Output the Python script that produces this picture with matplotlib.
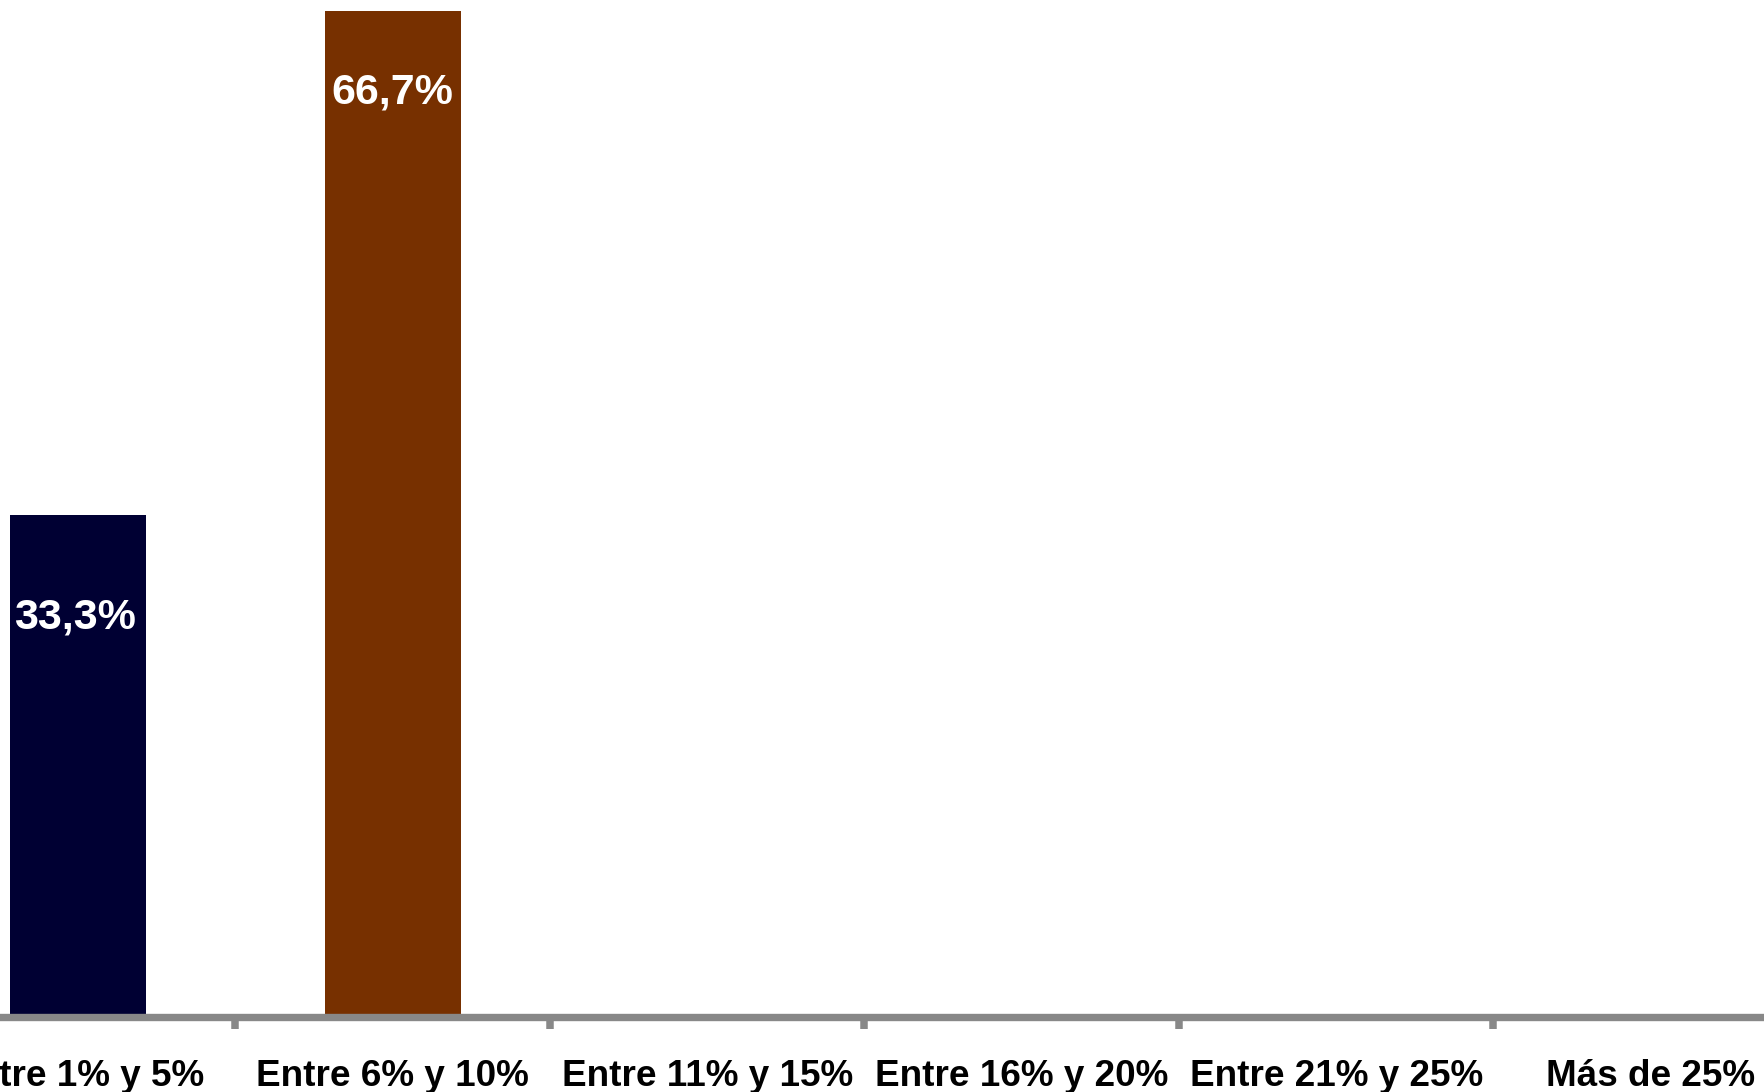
import matplotlib
matplotlib.use("Agg")
import matplotlib.pyplot as plt
import numpy as np

plt.rcParams['font.family'] = ['Liberation Sans', 'DejaVu Sans']

categories = ["Entre 1% y 5%", "Entre 6% y 10%", "Entre 11% y 15%",
              "Entre 16% y 20%", "Entre 21% y 25%", "Más de 25%"]
values = [33.3, 66.7, 0, 0, 0, 0]
bar_colors = ["#000033", "#773000", "#000033", "#000033", "#000033", "#000033"]
# offset of each value label from its bar top (points)
label_dx_pt = [-2.5, 0]
label_drop_pt = [-74, -58.7]

W, H = 1764, 1092
fig = plt.figure(figsize=(W / 100, H / 100), dpi=100)
# plot area extends slightly beyond the picture on both sides (cropped original)
left_px, right_px = -79, 1808
bottom_px, top_px = 1017, 11
ax = fig.add_axes([left_px / W, (H - bottom_px) / H,
                   (right_px - left_px) / W, (bottom_px - top_px) / H])

x = np.arange(len(categories))
bars = ax.bar(x, values, width=0.434, color=bar_colors, zorder=2)

ax.set_xlim(-0.5, len(categories) - 0.5)
ax.set_ylim(0, max(values))

for sp in ["top", "right", "left"]:
    ax.spines[sp].set_visible(False)
ax.spines["bottom"].set_color("#888888")
ax.spines["bottom"].set_linewidth(5.3)
ax.spines["bottom"].set_zorder(3)
ax.set_yticks([])

ax.set_xticks(np.arange(len(categories) + 1) - 0.5)
ax.set_xticklabels([])
ax.tick_params(axis="x", which="major", direction="out", length=8.4,
               width=5.4, color="#888888")
ax.set_xticks(x, minor=True)
ax.set_xticklabels(categories, minor=True, fontsize=26.6, fontweight="bold",
                   color="black")
ax.tick_params(axis="x", which="minor", length=0, pad=30)

for i, v in enumerate(values):
    if v > 0:
        ax.annotate(f"{v:.1f}%".replace(".", ","), xy=(x[i], v),
                    xytext=(label_dx_pt[i], label_drop_pt[i]),
                    textcoords="offset points",
                    ha="center", va="center", color="white",
                    fontsize=31, fontweight="bold", zorder=4)

fig.savefig("out.png", dpi=100)
